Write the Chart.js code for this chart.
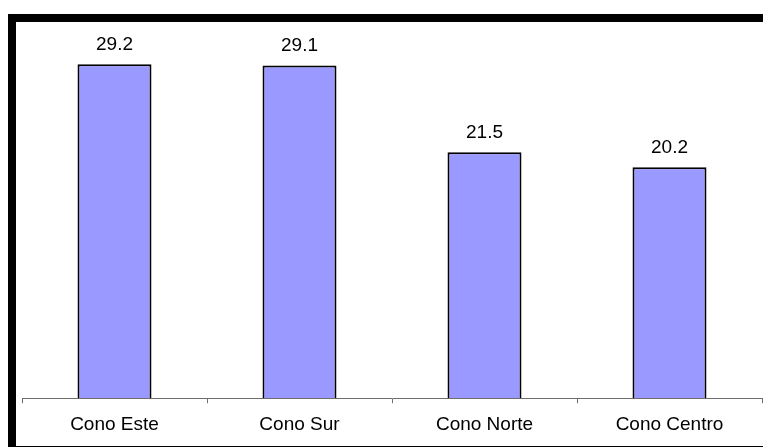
<!DOCTYPE html>
<html>
<head>
<meta charset="utf-8">
<script src="https://cdn.jsdelivr.net/npm/chart.js@4"></script>
<style>
    html, body { margin: 0; padding: 0; background: #fff; }
    #frame {
        position: absolute;
        left: 8px;
        top: 14px;
        width: 747px;
        height: 424px;
        border-left: 8px solid #000;
        border-top: 8px solid #000;
        border-bottom: 1px solid #000;
    }
    #zoneChart { display: block; }
</style>
</head>
<body>
<div id="frame">
    <canvas id="zoneChart" width="747" height="424"></canvas>
</div>
<script>
// Values per zone
const zones = ["Cono Este", "Cono Sur", "Cono Norte", "Cono Centro"];
const percentages = [29.2, 29.1, 21.5, 20.2];

const FONT_FAMILY = "'Liberation Sans', Arial, sans-serif";

// Write the value above each bar
const valueLabels = {
    id: "valueLabels",
    afterDatasetsDraw(chart) {
        const { ctx } = chart;
        const meta = chart.getDatasetMeta(0);
        ctx.save();
        ctx.font = `19px ${FONT_FAMILY}`;
        ctx.fillStyle = "#000";
        ctx.textAlign = "center";
        ctx.textBaseline = "alphabetic";
        meta.data.forEach((bar, i) => {
            ctx.fillText(percentages[i].toFixed(1), bar.x, bar.y - 14);
        });
        ctx.restore();
    }
};

const renderZoneChart = () => {
    const ctx = document.getElementById("zoneChart").getContext("2d");

    new Chart(ctx, {
        type: "bar",
        data: {
            labels: zones,
            datasets: [{
                data: percentages,
                backgroundColor: "#9999FF",
                borderColor: "#000000",
                borderWidth: 2,
                borderSkipped: "bottom",
                barPercentage: 0.4,
                categoryPercentage: 1,
            }],
        },
        options: {
            responsive: false,
            animation: false,
            layout: { padding: { left: 6, right: 1, top: 0, bottom: 0 } },
            plugins: {
                legend: { display: false },
                tooltip: { enabled: false },
            },
            scales: {
                x: {
                    offset: true,
                    grid: {
                        offset: true,
                        drawOnChartArea: false,
                        drawTicks: true,
                        tickLength: 5,
                        color: "#6e6e6e",
                    },
                    border: { display: true, color: "#6e6e6e", width: 1 },
                    ticks: {
                        color: "#000",
                        padding: 10,
                        font: { family: FONT_FAMILY, size: 19 },
                    },
                },
                y: {
                    display: false,
                    min: 0,
                    max: 32.9,
                },
            },
        },
        plugins: [valueLabels],
    });
};

document.addEventListener("DOMContentLoaded", renderZoneChart);
</script>
</body>
</html>
